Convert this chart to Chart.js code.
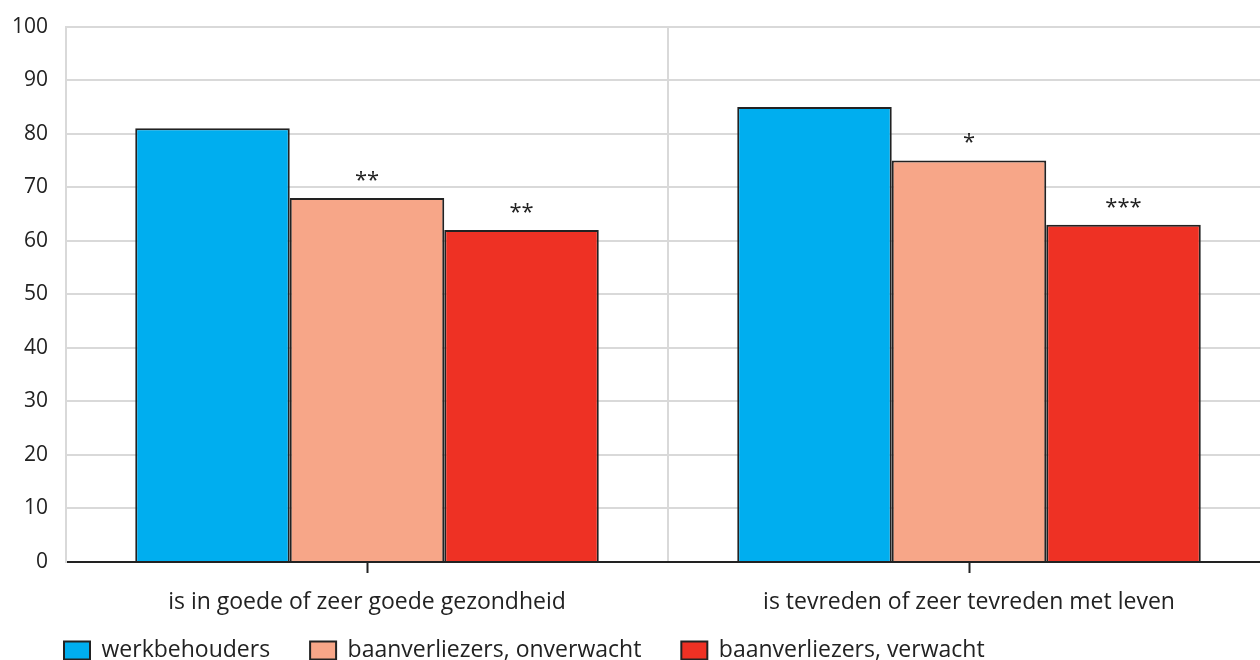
<!DOCTYPE html>
<html>
<head>
<meta charset="utf-8">
<script src="https://cdn.jsdelivr.net/npm/chart.js@4.4.1/dist/chart.umd.min.js"></script>
<style>
  body { margin: 0; background: #fff; }
  .wrap { width: 1260px; height: 660px; overflow: hidden; position: relative; }
  .wrap canvas { position: absolute; left: 0; top: -4px; }
</style>
</head>
<body>
<div class="wrap">
  <canvas id="chart" width="1272" height="694"></canvas>
</div>
<script>
// Data
const categories = ['is in goede of zeer goede gezondheid', 'is tevreden of zeer tevreden met leven'];
const seriesNames = ['werkbehouders', 'baanverliezers, onverwacht', 'baanverliezers, verwacht'];
const werkbehouders = [81, 85];
const onverwacht = [68, 75];
const verwacht = [62, 63];
const significance = [['', ''], ['**', '*'], ['**', '***']];
const yTicks = [0, 10, 20, 30, 40, 50, 60, 70, 80, 90, 100];

const colors = ['#00aeef', '#f7a688', '#ee3124'];
const fontFamily = '"Open Sans", sans-serif';
const textColor = '#222222';

// asterisks above bars, tick marks at category centres, legend placement
const extras = {
  id: 'extras',
  afterLayout(chart) {
    chart.legend.left = 24;
    chart.legend.top = 603;
  },
  afterDatasetsDraw(chart) {
    const ctx = chart.ctx;
    ctx.save();
    ctx.fillStyle = textColor;
    ctx.font = '22px ' + fontFamily;
    ctx.textAlign = 'center';
    ctx.textBaseline = 'alphabetic';
    chart.data.datasets.forEach((ds, i) => {
      const meta = chart.getDatasetMeta(i);
      meta.data.forEach((bar, j) => {
        const s = significance[i][j];
        if (s) ctx.fillText(s, bar.x, bar.y - 11);
      });
    });
    const xs = chart.scales.x;
    ctx.strokeStyle = '#222';
    ctx.lineWidth = 2;
    xs.ticks.forEach((t, i) => {
      const x = Math.round(xs.getPixelForTick(i)) + 0.5;
      ctx.beginPath();
      ctx.moveTo(x, chart.chartArea.bottom);
      ctx.lineTo(x, chart.chartArea.bottom + 11);
      ctx.stroke();
    });
    ctx.restore();
  }
};

const ctx = document.getElementById('chart').getContext('2d');
const chart = new Chart(ctx, {
  type: 'bar',
  data: {
    labels: categories,
    datasets: [werkbehouders, onverwacht, verwacht].map((d, i) => ({
      label: seriesNames[i],
      data: d,
      backgroundColor: colors[i],
      borderColor: '#222222',
      borderWidth: 2,
      borderSkipped: 'bottom',
      categoryPercentage: 0.77,
      barPercentage: 1.0
    }))
  },
  options: {
    responsive: false,
    animation: false,
    devicePixelRatio: 1,
    layout: { padding: { left: 0, right: 2, top: 10, bottom: 0 } },
    plugins: {
      legend: {
        position: 'bottom',
        align: 'start',
        labels: {
          boxWidth: 26,
          boxHeight: 18,
          padding: 40,
          color: textColor,
          font: { family: fontFamily, size: 23 }
        }
      },
      tooltip: { enabled: false }
    },
    scales: {
      x: {
        grid: { color: '#d9d9d9', lineWidth: 2, offset: true, drawTicks: false },
        border: { color: '#222222', width: 2 },
        ticks: {
          color: textColor,
          padding: 27,
          font: { family: fontFamily, size: 23 }
        },
        afterFit(scale) { scale.height = 55; }
      },
      y: {
        min: 0,
        max: 100,
        afterBuildTicks(scale) { scale.ticks = yTicks.map(v => ({ value: v })); },
        grid: { color: '#d9d9d9', lineWidth: 2, drawTicks: false },
        border: { color: '#d9d9d9', width: 2 },
        ticks: {
          color: textColor,
          padding: 18,
          font: { family: fontFamily, size: 21 }
        },
        afterFit(scale) { scale.width = 66; }
      }
    }
  },
  plugins: [extras]
});
</script>
</body>
</html>
